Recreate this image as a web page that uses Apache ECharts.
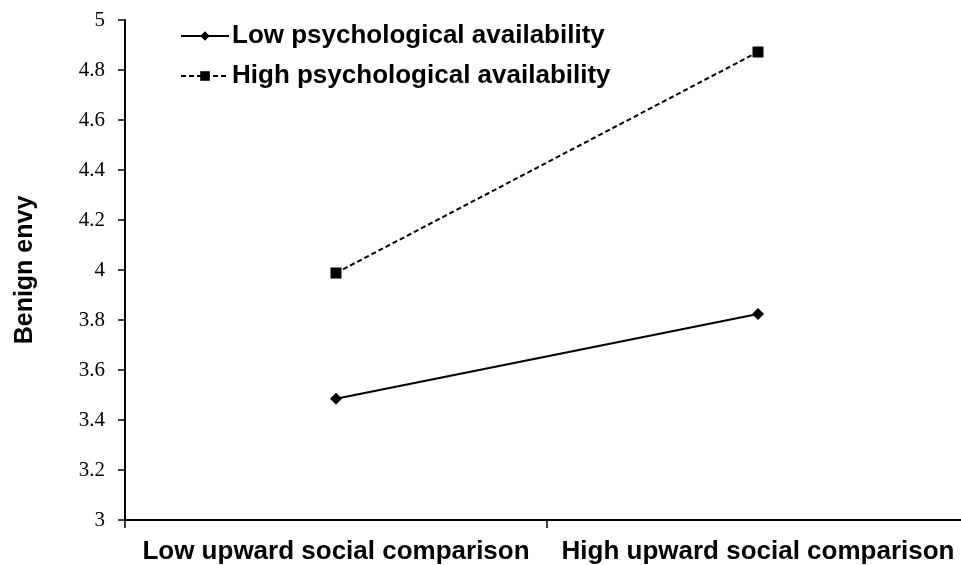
<!DOCTYPE html>
<html>
<head>
<meta charset="utf-8">
<script src="https://cdn.jsdelivr.net/npm/echarts@6/dist/echarts.min.js"></script>
<style>
  html, body { margin: 0; padding: 0; background: #fff; overflow: hidden; }
  /* the original axis runs a few pixels past the right edge of the picture */
  #chart { width: 969px; height: 565px; }
</style>
</head>
<body>
<div id="chart"></div>
<script>
// data
const categories = ['Low upward social comparison', 'High upward social comparison'];
const lowAvailability = [3.485, 3.824];
const highAvailability = [3.988, 4.872];
const seriesNames = ['Low psychological availability', 'High psychological availability'];

const chart = echarts.init(document.getElementById('chart'));

const option = {
  animation: false,
  backgroundColor: '#fff',
  grid: {
    left: 125,
    top: 20,
    right: 0,
    bottom: 45,
    containLabel: false,
  },
  legend: {
    orient: 'vertical',
    left: 175,
    top: 18,
    itemWidth: 48,
    itemHeight: 12,
    itemGap: 14,
    textStyle: {
      fontFamily: 'Liberation Sans',
      fontWeight: 'bold',
      fontSize: 26,
      color: '#000',
      padding: [0, 0, 0, -2],
    },
    data: seriesNames,
  },
  xAxis: {
    type: 'category',
    data: categories,
    boundaryGap: true,
    axisLine: { lineStyle: { color: '#000', width: 2 } },
    axisTick: { show: true, length: 8, interval: 0, lineStyle: { color: '#000', width: 1.5 } },
    axisLabel: {
      interval: 0,
      margin: 19,
      fontFamily: 'Liberation Sans',
      fontWeight: 'bold',
      fontSize: 26,
      color: '#000',
    },
  },
  yAxis: {
    type: 'value',
    min: 3,
    max: 5,
    interval: 0.2,
    name: 'Benign envy',
    nameLocation: 'middle',
    nameGap: 87,
    nameTextStyle: {
      fontFamily: 'Liberation Sans',
      fontWeight: 'bold',
      fontSize: 25,
      color: '#000',
    },
    splitLine: { show: false },
    axisLine: { show: true, lineStyle: { color: '#000', width: 2 } },
    axisTick: { show: true, length: 7, lineStyle: { color: '#000', width: 1.5 } },
    axisLabel: {
      margin: 20,
      fontFamily: 'Liberation Serif',
      fontSize: 21,
      color: '#000',
    },
  },
  series: [
    {
      name: seriesNames[0],
      type: 'line',
      data: lowAvailability,
      symbol: 'diamond',
      symbolSize: 12,
      itemStyle: { color: '#000' },
      lineStyle: { color: '#000', width: 2 },
    },
    {
      name: seriesNames[1],
      type: 'line',
      data: highAvailability,
      symbol: 'rect',
      symbolSize: 11,
      itemStyle: { color: '#000' },
      lineStyle: { color: '#000', width: 2, type: [5, 3] },
    },
  ],
};

chart.setOption(option);
</script>
</body>
</html>
